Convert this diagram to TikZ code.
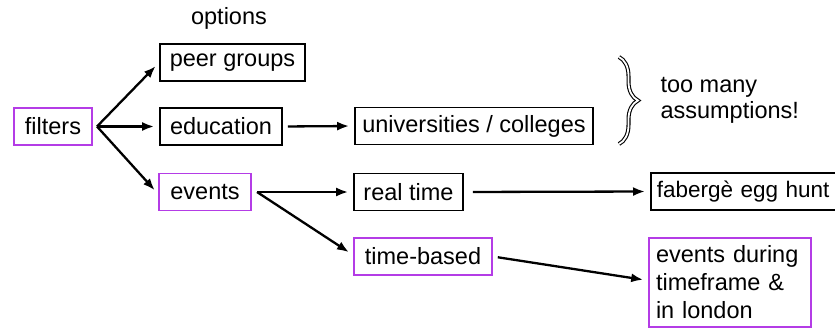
\documentclass[tikz,border=0pt]{standalone}
\usepackage{fontspec}
\setmainfont{Liberation Sans}
\usetikzlibrary{arrows.meta,decorations.pathreplacing}
\definecolor{filterpink}{RGB}{180,60,230}
\tikzset{
  optbox/.style={draw, line width=1.7pt, minimum height=37pt, inner xsep=6pt, inner ysep=0pt},
  pickbox/.style={optbox, draw=filterpink},
  link/.style={line width=2.3pt, -{Latex[length=12pt,width=9pt]}, shorten >=5pt}
}
\begin{document}
\begin{tikzpicture}[x=1pt, y=-1pt, font=\fontsize{23.5}{28}\selectfont]
      \clip(0, 0) rectangle (835, 329);
      \fill[white](0, 0) rectangle (835, 329);

      \node at(229, 18)(options){options};
      \node[optbox, minimum width=145pt] at(232.5, 62.5)(peer){peer groups};
      \node[pickbox, minimum width=78pt] at(53, 126.5)(filters){filters};
      \node[optbox, minimum width=122pt] at(221, 126.5)(education){education};
      \node[optbox, minimum width=238pt] at(474, 126)(unis){universities / colleges};
      \node[pickbox, minimum width=92pt] at(205, 192)(events){events};
      \node[optbox, minimum width=109pt] at(408.5, 192)(realtime){real time};
      \node[optbox, anchor=west, text width=200pt, inner xsep=6pt, align=left,
            font=\fontsize{22.5}{28}\selectfont] at(650, 191.5)(faberge){faberg\`e egg hunt};
      \node[pickbox, minimum width=138pt] at(423, 256.5)(timebased){time-based};
      \node[pickbox, minimum width=162pt, minimum height=89pt, align=left,
            text width=148pt] at(730, 282.5)(london){events during\\timeframe \&\\in london};

      % brace and comment
      \coordinate (bracetop) at(619, 57);
      \coordinate (bracebot) at(619, 144);
      \draw[decorate, decoration={brace, amplitude=19pt}, double, line width=1.1pt,
            double distance=1.8pt](bracetop) to (bracebot);
      \node[align=left, anchor=west, font=\fontsize{23.5}{26}\selectfont] at(657, 100)(assume){too many\\assumptions!};

      % arrows
      \coordinate (filtersout) at(97, 126.5);
      \coordinate (eventsout) at(257, 192);
      \draw[link](filtersout) to (peer.west);
      \draw[link](filtersout) to (education.west);
      \draw[link](filtersout) to ([yshift=-2pt]events.west);
      \draw[link, shorten <=5pt](education.east) to (unis.west);
      \draw[link](eventsout) to (realtime.west);
      \draw[link](eventsout) to ([yshift=1.5pt]timebased.west);
      \draw[link, shorten <=9pt](realtime.east) to (faberge.west);
      \draw[link, shorten <=5pt](timebased.east) to ([yshift=2pt]london.west);
      \end{tikzpicture}
\end{document}
